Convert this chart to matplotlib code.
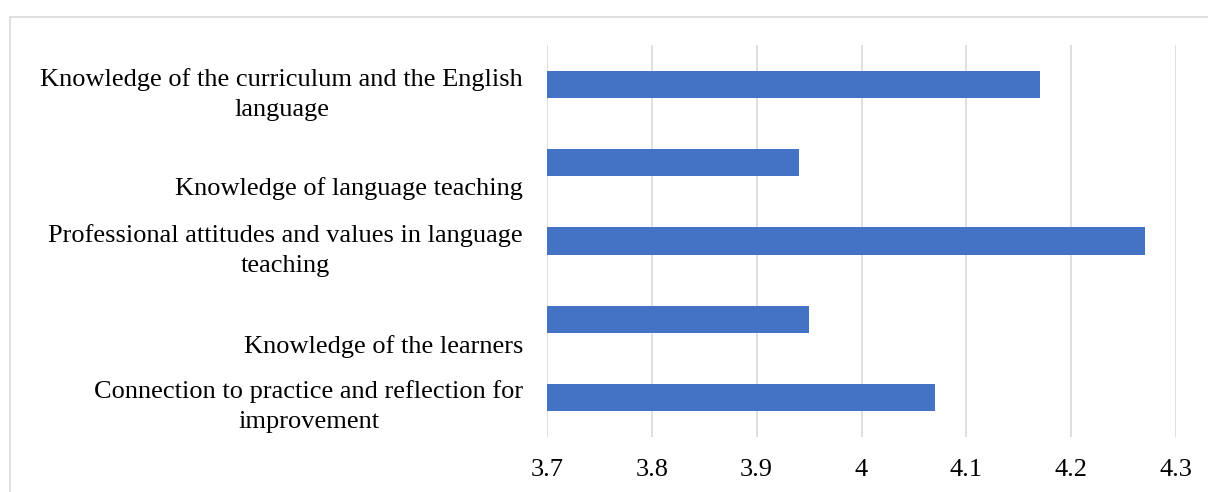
import matplotlib.pyplot as plt
from matplotlib.patches import Rectangle
from matplotlib.transforms import blended_transform_factory

# data (top to bottom)
categories = [
    "Knowledge of the curriculum and the English\nlanguage",
    "Knowledge of language teaching",
    "Professional attitudes and values in language\nteaching",
    "Knowledge of the learners",
    "Connection to practice and reflection for\nimprovement",
]
scores = [4.17, 3.94, 4.27, 3.95, 4.07]
xticks = [3.7, 3.8, 3.9, 4.0, 4.1, 4.2, 4.3]
xtick_labels = ["3.7", "3.8", "3.9", "4", "4.1", "4.2", "4.3"]

# label offsets in bar units (Excel put a few labels a bit low)
label_shift = [0.13, 0.33, 0.12, 0.35, 0.11]

plt.rcParams['font.family'] = ['Liberation Serif', 'DejaVu Serif']

fig = plt.figure(figsize=(12.08, 4.92), dpi=100)
ax = fig.add_axes([547 / 1208, 1 - 437 / 492, (1176 - 547) / 1208, (437 - 45) / 492])

ypos = list(range(len(categories)))
ax.barh(ypos, [s - 3.7 for s in scores], left=3.7, height=0.345, color='#4472C4', zorder=3)

ax.set_xlim(3.7, 4.3)
ax.set_ylim(len(categories) - 0.5, -0.5)
ax.set_xticks(xticks)
ax.set_xticklabels(xtick_labels, fontsize=19)
ax.set_yticks([])
ax.tick_params(axis='x', length=0, pad=16)
ax.grid(axis='x', color='#D9D9D9', linewidth=1.2, zorder=0)
for s in ax.spines.values():
    s.set_visible(False)

trans = blended_transform_factory(ax.transAxes, ax.transData)
for i, lab in enumerate(categories):
    ax.text(-0.038, i + label_shift[i], lab, transform=trans, ha='right', va='center',
            multialignment='center', fontsize=19, linespacing=1.5)

# outer chart border
fig.patches.append(Rectangle((10 / 1208, -0.1), 1.2, 1 - 17 / 492 + 0.1, transform=fig.transFigure,
                             fill=False, edgecolor='#D9D9D9', linewidth=1.2))

fig.savefig('out.png', dpi=100)
